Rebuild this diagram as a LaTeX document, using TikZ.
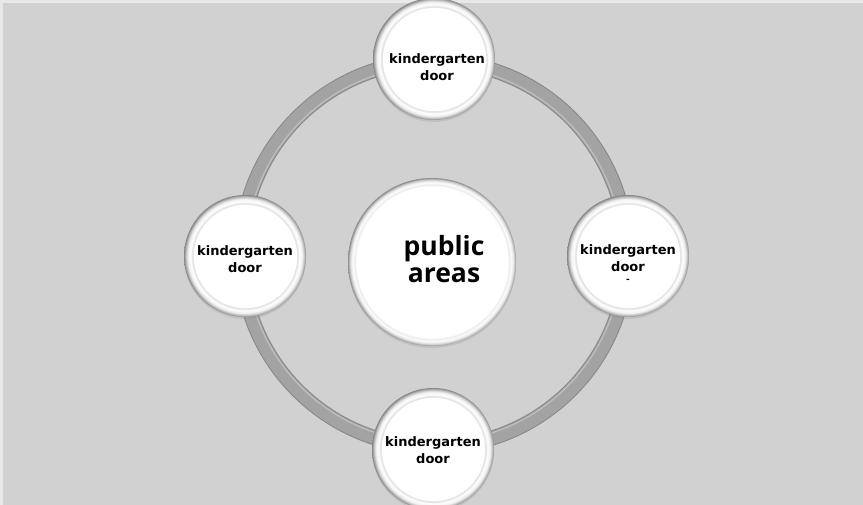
\documentclass[tikz,border=0pt]{standalone}
\usepackage{fontspec}
\setmainfont{DejaVu Sans}
\newfontfamily\hubfont{Open Sans}
\usetikzlibrary{shadows}
\definecolor{kgback}{RGB}{209,209,209}
\definecolor{kgedge}{RGB}{232,232,232}
\definecolor{kgring}{RGB}{163,163,163}
\definecolor{kgringdark}{RGB}{135,135,135}
\definecolor{kgringlight}{RGB}{190,190,190}
% white buttons with a bevelled rim (25bp is the edge of the circle)
\pgfdeclareradialshading{kgknob}{\pgfpointorigin}{color(0bp)=(white); color(21bp)=(white);
  color(21.5bp)=(black!14); color(22.3bp)=(white); color(23.4bp)=(black!6); color(24.4bp)=(black!28);
  color(25bp)=(black!48); color(50bp)=(black!48)}
\pgfdeclareradialshading{kghub}{\pgfpointorigin}{color(0bp)=(white); color(22.6bp)=(white);
  color(23bp)=(black!9); color(23.5bp)=(white); color(24.2bp)=(black!10); color(24.8bp)=(black!32);
  color(25bp)=(black!48); color(50bp)=(black!48)}
\tikzset{
  door/.style={circle, minimum size=122pt, inner sep=0pt, shade, shading=kgknob,
    drop shadow={opacity=0.2, shadow xshift=0pt, shadow yshift=-2pt}},
  doortext/.style={align=center, inner sep=0pt, font=\bfseries\fontsize{13}{17}\selectfont},
  hub/.style={circle, minimum size=168pt, inner sep=0pt, shade, shading=kghub,
    drop shadow={opacity=0.2, shadow xshift=0pt, shadow yshift=-2pt}},
  hubtext/.style={align=center, inner sep=0pt, font=\hubfont\bfseries\fontsize{26.5}{27}\selectfont},
  ringband/.style={draw=kgring, line width=13pt}
}

\begin{document}
\begin{tikzpicture}[x=1pt,y=-1pt]
  \useasboundingbox (0,0) rectangle (863,505);
  \fill[kgback] (0,0) rectangle (863,505);
  \fill[kgedge] (0,0) rectangle (863,3);
  \fill[kgedge] (0,0) rectangle (3,505);

  % ring behind the buttons
  \coordinate (ctr) at (434,254);
  \draw[kgringdark, line width=15pt] (ctr) circle (193);
  \draw[ringband] (ctr) circle (193);
  \draw[kgringlight, line width=1.2pt] (ctr) circle (188);

  \node[hub, label={[hubtext, xshift=12pt, yshift=3pt]center:{public\\areas}}] (hub) at (432,262) {};

  \node[door, label={[doortext, xshift=3pt, yshift=-8pt]center:{kindergarten\\door}}] (top) at (434,59) {};
  \node[door, label={[doortext, yshift=-3pt]center:{kindergarten\\door}}] (left) at (245,256) {};
  \node[door, label={[doortext, yshift=-8pt]center:{kindergarten\\door\\[-6pt]{\fontsize{9}{9}\selectfont -}}}] (right) at (628,256) {};
  \node[door, label={[doortext, yshift=-1pt]center:{kindergarten\\door}}] (bottom) at (433,449) {};
\end{tikzpicture}
\end{document}
